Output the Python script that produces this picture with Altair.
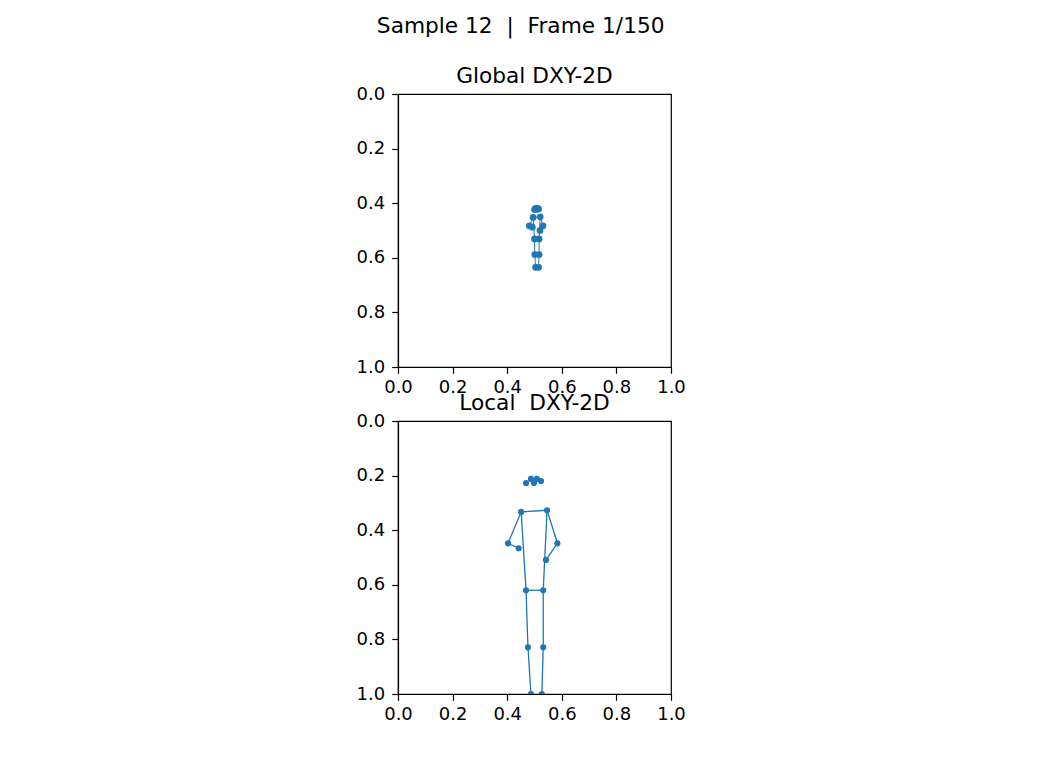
import altair as alt
import pandas as pd

joints = ["l_ear", "l_eye", "nose", "r_eye", "r_ear",
          "l_sh", "r_sh", "l_el", "r_el", "l_wr", "r_wr",
          "l_hip", "r_hip", "l_kn", "r_kn", "l_an", "r_an"]

global_x = [0.500, 0.504, 0.507, 0.510, 0.515,
            0.495, 0.521, 0.481, 0.531, 0.492, 0.520,
            0.500, 0.517, 0.501, 0.517, 0.504, 0.515]
global_y = [0.423, 0.419, 0.423, 0.419, 0.421,
            0.452, 0.450, 0.483, 0.483, 0.488, 0.500,
            0.531, 0.531, 0.588, 0.588, 0.635, 0.635]

local_x = [0.469, 0.487, 0.498, 0.509, 0.524,
           0.451, 0.546, 0.403, 0.584, 0.442, 0.542,
           0.469, 0.532, 0.476, 0.532, 0.487, 0.527]
local_y = [0.227, 0.212, 0.227, 0.212, 0.220,
           0.333, 0.327, 0.448, 0.448, 0.466, 0.509,
           0.620, 0.620, 0.829, 0.829, 1.000, 1.000]

edges = [("l_sh", "r_sh"), ("l_sh", "l_el"), ("l_el", "l_wr"),
         ("r_sh", "r_el"), ("r_el", "r_wr"), ("l_sh", "l_hip"),
         ("r_sh", "r_hip"), ("l_hip", "r_hip"), ("l_hip", "l_kn"),
         ("l_kn", "l_an"), ("r_hip", "r_kn"), ("r_kn", "r_an")]

ticks = [0.0, 0.2, 0.4, 0.6, 0.8, 1.0]
BLUE = "#1f77b4"
FONT = "DejaVu Sans"
SIZE = 273


def panel(xs, ys, title, pt_size, lw):
    pts = pd.DataFrame({"joint": joints, "x": xs, "y": ys})
    idx = {j: i for i, j in enumerate(joints)}
    rows = []
    for k, (a, b) in enumerate(edges):
        for o, j in enumerate((a, b)):
            rows.append({"edge": k, "ord": o, "x": xs[idx[j]], "y": ys[idx[j]]})
    seg = pd.DataFrame(rows)
    xs_ = alt.Scale(domain=[0, 1], nice=False, zero=False)
    ys_ = alt.Scale(domain=[0, 1], nice=False, zero=False, reverse=True)
    xax = alt.Axis(values=ticks, format=".1f", title=None, grid=False, labelPadding=5,
                   labelFlush=False, labelOverlap=False)
    yax = alt.Axis(values=ticks, format=".1f", title=None, grid=False, labelPadding=7,
                   labelFlush=False, labelOverlap=False)
    lines = alt.Chart(seg).mark_line(color=BLUE, strokeWidth=lw, clip=True).encode(
        x=alt.X("x:Q", scale=xs_, axis=xax),
        y=alt.Y("y:Q", scale=ys_, axis=yax),
        detail="edge:N",
        order="ord:Q",
    )
    dots = alt.Chart(pts).mark_circle(color=BLUE, size=pt_size, opacity=1, clip=True).encode(
        x=alt.X("x:Q", scale=xs_, axis=xax),
        y=alt.Y("y:Q", scale=ys_, axis=yax),
    )
    return alt.layer(lines, dots).properties(
        width=SIZE, height=SIZE,
        title=alt.TitleParams(title, fontSize=21.7, font=FONT, fontWeight="normal",
                              anchor="middle", offset=-3, color="black"),
    )


top = panel(global_x, global_y, "Global DXY-2D", 45, 1.0)
bottom = panel(local_x, local_y, "Local \u00a0DXY-2D", 38, 1.3)

chart = alt.vconcat(top, bottom, spacing=-5).properties(
    title=alt.TitleParams("Sample 12 \u00a0|\u00a0 Frame 1/150", fontSize=21.7, font=FONT,
                          fontWeight="normal", anchor="middle", offset=28, color="black"),
    padding={"left": 347, "top": 8, "right": 10, "bottom": 10},
    background="white",
).configure_view(
    stroke="black", strokeWidth=1.2
).configure_axis(
    labelFont=FONT, labelFontSize=18, labelColor="black",
    domainColor="black", domainWidth=1.2, tickColor="black", tickWidth=1.2,
    tickSize=6.3,
).configure_axisY(labelBaseline="middle")

chart.save("out.html", embed_options={"renderer": "svg", "actions": False})
